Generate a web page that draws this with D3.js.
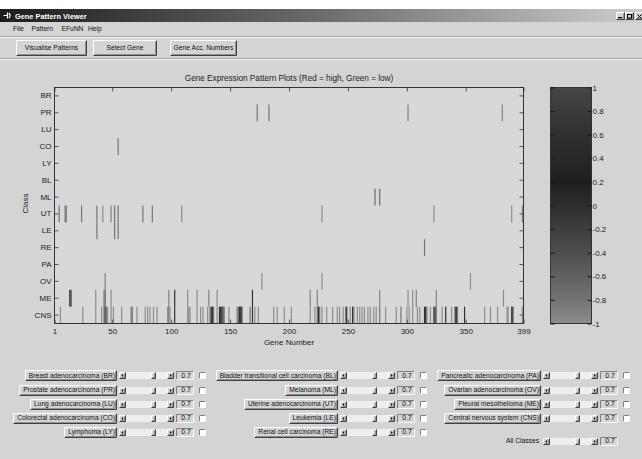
<!DOCTYPE html>
<html><head><meta charset="utf-8">
<script src="https://cdn.jsdelivr.net/npm/d3@7"></script>
<style>
html,body{margin:0;padding:0;background:#fff;}
svg{display:block;font-family:"Liberation Sans",Arial,sans-serif;}
</style></head><body>
<svg id="c" width="642" height="459"></svg>
<script>
// ---------------- data ----------------
const classes = ["BR","PR","LU","CO","LY","BL","ML","UT","LE","RE","PA","OV","ME","CNS"];
const geneTicks = [1,50,100,150,200,250,300,350,399];
const colorTicks = [1,0.8,0.6,0.4,0.2,0,-0.2,-0.4,-0.6,-0.8,-1];
const colorStops = [-1,-0.8,-0.6,-0.4,-0.2,0,0.2,0.4,0.6,0.8,1];
const colorGrays = ["#8c8c8c","#747474","#606060","#4e4e4e","#3e3e3e","#2e2e2e","#1e1e1e","#282828","#303030","#3a3a3a","#464646"];

// [gene, value] per class
const barsBR = [];
const barsPR = [[173,-0.8],[183,-0.8],[301,-0.9],[381,-0.9]];
const barsLU = [];
const barsCO = [[55,-0.8]];
const barsLY = [];
const barsBL = [];
const barsML = [[273,-0.7],[277,-0.7]];
const barsUT = [[5,-0.8],[10,-0.8],[11,-0.8],[24,-0.8],[37,-0.8],[42,-1],[49,-0.9],[52,-0.8],[55,-0.8],[76,-0.8],[84,-0.8],[109,-1],[228,-1],[323,-1],[389,-1],[398,-0.9]];
const barsLE = [[37,-0.8],[52,-0.8],[55,-0.8]];
const barsRE = [[315,-0.8]];
const barsPA = [];
const barsOV = [[44,-0.9],[177,-1],[228,-1],[354,-1]];
const barsME = [[14,0.6],[15,0.6],[36,-1],[43,-0.8],[44,-0.6],[49,-1],[98,-0.9],[103,0.6],[114,-1],[122,-1],[132,-0.9],[139,-1],[169,0.6],[218,-0.9],[224,-0.9],[277,-0.9],[301,-1],[305,-1],[308,-0.9],[325,-0.9],[382,-1]];
const barsCNS = [[6,-1],[25,-1],[36,-1],[41,-1],[43,-0.8],[44,0.6],[45,-0.8],[46,-1],[49,-1],[51,-1],[58,-1],[66,-0.8],[67,-0.8],[71,-1],[78,-1],[80,-1],[82,-1],[85,-1],[88,-1],[97,-1],[98,-0.8],[99,-1],[103,0.6],[114,-1],[115,-1],[116,-1],[122,-1],[125,-1],[127,-1],[131,-1],[133,-0.8],[134,0.6],[135,0.6],[136,-0.8],[139,-1],[141,0.6],[142,0.6],[143,0.6],[144,0.6],[145,-0.8],[149,-1],[156,-0.8],[157,-0.8],[158,0.6],[159,0.6],[160,0.6],[167,-0.8],[169,0.6],[171,-1],[174,-1],[187,-1],[190,-1],[196,-1],[202,-1],[218,-1],[222,-1],[224,-0.8],[225,0.6],[226,-0.8],[228,-1],[232,-1],[237,-1],[241,-1],[243,-1],[246,-1],[248,-0.8],[249,0.6],[252,-1],[254,0.6],[255,-0.8],[258,-1],[260,-1],[262,-1],[264,-1],[267,-1],[269,-1],[272,-1],[274,-1],[277,-0.8],[282,-1],[291,-1],[295,-0.8],[300,-1],[302,-1],[305,-1],[309,-1],[311,-1],[315,0.6],[316,0.6],[317,-0.8],[320,-1],[323,0.6],[324,0.6],[325,-0.8],[330,-1],[333,0.6],[338,-1],[341,0.6],[342,0.6],[343,-0.8],[349,0.6],[366,-1],[371,-1],[377,-1],[385,-1],[386,-1],[389,0.6],[390,0.6],[398,-1]];
const barSets = [barsBR,barsPR,barsLU,barsCO,barsLY,barsBL,barsML,barsUT,barsLE,barsRE,barsPA,barsOV,barsME,barsCNS];

const menuItems = ["File","Pattern","EFuNN","Help"];
const toolButtons = ["Visualise Patterns","Select Gene","Gene Acc. Numbers"];
const col1Labels = ["Breast adenocarcinoma (BR)","Prostate adenocarcinoma (PR)","Lung adenocarcinoma (LU)","Colorectal adenocarcinoma (CO)","Lymphoma (LY)"];
const col2Labels = ["Bladder transitional cell carcinoma (BL)","Melanoma (ML)","Uterine adenocarcinoma (UT)","Leukemia (LE)","Renal cell carcinoma (RE)"];
const col3Labels = ["Pancreatic adenocarcinoma (PA)","Ovarian adenocarcinoma (OV)","Pleural mesothelioma (ME)","Central nervous system (CNS)"];
const col1Thresh = [0.7,0.7,0.7,0.7,0.7];
const col2Thresh = [0.7,0.7,0.7,0.7,0.7];
const col3Thresh = [0.7,0.7,0.7,0.7];
const allClassesThresh = 0.7;

// ---------------- drawing ----------------
const svg = d3.select("#c");
const BG = "#d4d4d4";
const defs = svg.append("defs");

// window chrome
svg.append("rect").attr("x",0).attr("y",0).attr("width",642).attr("height",459).attr("fill","#fff");
svg.append("rect").attr("x",0).attr("y",9).attr("width",642).attr("height",450).attr("fill",BG);
const tg = defs.append("linearGradient").attr("id","tbar").attr("x1",0).attr("x2",1).attr("y1",0).attr("y2",0);
tg.append("stop").attr("offset",0).attr("stop-color","#1c1c1c");
tg.append("stop").attr("offset",0.5).attr("stop-color","#6c6c6c");
tg.append("stop").attr("offset",0.95).attr("stop-color","#c4c4c4");
tg.append("stop").attr("offset",1).attr("stop-color","#cacaca");
svg.append("rect").attr("x",0).attr("y",9).attr("width",642).attr("height",13).attr("fill","url(#tbar)");
svg.append("path").attr("d","M3.5,15.5h3.5M7.5,12.5v6M9,13q2.2,2.5 0,5").attr("stroke","#fff").attr("stroke-width",1.2).attr("fill","none");
svg.append("text").attr("x",15).attr("y",19).attr("fill","#fff").attr("font-weight","bold").attr("font-size",7.4).text("Gene Pattern Viewer");

function raised(g,x,y,w,h){
  g.append("rect").attr("x",x).attr("y",y).attr("width",w).attr("height",h).attr("fill",BG);
  g.append("path").attr("d",`M${x+0.5},${y+h-0.5}V${y+0.5}H${x+w-0.5}`).attr("stroke","#fff").attr("fill","none");
  g.append("path").attr("d",`M${x+1.5},${y+h-1.5}H${x+w-1.5}V${y+1.5}`).attr("stroke","#909090").attr("fill","none");
  g.append("path").attr("d",`M${x+0.5},${y+h-0.5}H${x+w-0.5}V${y+0.5}`).attr("stroke","#404040").attr("fill","none");
}
function sunken(g,x,y,w,h,fill){
  g.append("rect").attr("x",x).attr("y",y).attr("width",w).attr("height",h).attr("fill",fill);
  g.append("path").attr("d",`M${x+0.5},${y+h-0.5}V${y+0.5}H${x+w-0.5}`).attr("stroke","#808080").attr("fill","none");
  g.append("path").attr("d",`M${x+0.5},${y+h-0.5}H${x+w-0.5}V${y+0.5}`).attr("stroke","#fafafa").attr("fill","none");
}

// window buttons
const wb = svg.append("g");
[616,625,635].forEach((bx,i)=>{
  raised(wb,bx,12,9,8);
  if(i===0) wb.append("path").attr("d",`M${bx+2},${17.5}h4`).attr("stroke","#000");
  if(i===1) wb.append("rect").attr("x",bx+2.5).attr("y",14.5).attr("width",4).attr("height",3.5).attr("fill","none").attr("stroke","#000");
  if(i===2) wb.append("path").attr("d",`M${bx+2.5},14.5l4,4M${bx+6.5},14.5l-4,4`).attr("stroke","#000");
});

// menu
const menuX = [13,31.5,61.5,88];
const mg = svg.append("g").attr("font-size",6.7).attr("fill","#111");
menuItems.forEach((m,i)=>mg.append("text").attr("x",menuX[i]).attr("y",30.5).text(m));
svg.append("path").attr("d","M0,36.5H642").attr("stroke","#a0a0a0");
svg.append("path").attr("d","M0,37.5H642").attr("stroke","#f4f4f4");
svg.append("path").attr("d","M0,58.5H642").attr("stroke","#a0a0a0");
svg.append("path").attr("d","M0,59.5H642").attr("stroke","#f4f4f4");

// toolbar buttons
const tbX = [[16,87],[93,157],[170,237]];
const tb = svg.append("g");
toolButtons.forEach((t,i)=>{
  raised(tb,tbX[i][0],40,tbX[i][1]-tbX[i][0],16);
  tb.append("text").attr("x",(tbX[i][0]+tbX[i][1])/2).attr("y",50.3).attr("text-anchor","middle").attr("font-size",6.7).attr("fill","#111").text(t);
});

// ---------------- main axes ----------------
const X0=54.5, X1=523.5, Y0=87.5, Y1=323.5;
const x = d3.scaleLinear().domain([1,399]).range([X0,X1]);
const y = d3.scaleBand().domain(classes).range([Y0,Y1]).padding(0);
const color = d3.scaleLinear().domain(colorStops).range(colorGrays);

svg.append("rect").attr("x",X0).attr("y",Y0).attr("width",X1-X0).attr("height",Y1-Y0).attr("fill","#d8d8d8");

const barData = [];
classes.forEach((c,i)=>barSets[i].forEach(b=>barData.push({cls:c,g:b[0],v:b[1]})));
svg.append("g").selectAll("rect").data(barData).join("rect")
  .attr("x",d=>x(d.g-0.5)).attr("width",d=>x(d.g+0.5)-x(d.g-0.5))
  .attr("y",d=>y(d.cls)).attr("height",y.bandwidth())
  .attr("fill",d=>color(d.v));

function styleAxis(g,col){
  g.select(".domain").remove();
  g.selectAll(".tick line").attr("stroke",col||"#555");
  g.selectAll(".tick text").attr("fill","#222").attr("font-size",8).attr("font-family","Liberation Sans, Arial, sans-serif");
}
svg.append("g").attr("transform",`translate(0,${Y1})`)
  .call(d3.axisBottom(x).tickValues(geneTicks).tickSizeInner(-4).tickSizeOuter(0).tickPadding(5).tickFormat(d=>String(d)))
  .call(styleAxis);
svg.append("g").attr("transform",`translate(0,${Y0})`)
  .call(d3.axisTop(x).tickValues(geneTicks).tickSizeInner(-4).tickSizeOuter(0).tickFormat(""))
  .call(styleAxis);
svg.append("g").attr("transform",`translate(${X0},0)`)
  .call(d3.axisLeft(y).tickSizeInner(-4).tickSizeOuter(0).tickPadding(3))
  .call(styleAxis);
svg.append("g").attr("transform",`translate(${X1},0)`)
  .call(d3.axisRight(y).tickSizeInner(-4).tickSizeOuter(0).tickFormat(""))
  .call(styleAxis);
svg.append("rect").attr("x",X0).attr("y",Y0).attr("width",X1-X0).attr("height",Y1-Y0).attr("fill","none").attr("stroke","#333");

svg.append("text").attr("x",(X0+X1)/2).attr("y",80.5).attr("text-anchor","middle").attr("font-size",8.2).attr("fill","#222")
  .text("Gene Expression Pattern Plots (Red = high, Green = low)");
svg.append("text").attr("x",(X0+X1)/2).attr("y",344.5).attr("text-anchor","middle").attr("font-size",8).attr("fill","#222").text("Gene Number");
svg.append("text").attr("transform",`translate(28,${(Y0+Y1)/2-2}) rotate(-90)`).attr("text-anchor","middle").attr("font-size",8).attr("fill","#222").text("Class");

// ---------------- colorbar ----------------
const CX0=550.5, CX1=591.5;
const yc = d3.scaleLinear().domain([-1,1]).range([Y1,Y0]);
const cg = defs.append("linearGradient").attr("id","cbar").attr("x1",0).attr("x2",0).attr("y1",0).attr("y2",1);
const stopIdx = d3.range(colorStops.length).reverse();
stopIdx.forEach(i=>cg.append("stop").attr("offset",(1-colorStops[i])/2).attr("stop-color",colorGrays[i]));
svg.append("rect").attr("x",CX0).attr("y",Y0).attr("width",CX1-CX0).attr("height",Y1-Y0).attr("fill","url(#cbar)").attr("stroke","#333");
svg.append("g").attr("transform",`translate(${CX1},0)`)
  .call(d3.axisRight(yc).tickValues(colorTicks).tickSizeInner(-4).tickSizeOuter(0).tickPadding(1).tickFormat(d=>String(d)))
  .call(g=>styleAxis(g,"#151515"));
svg.append("g").attr("transform",`translate(${CX0},0)`)
  .call(d3.axisLeft(yc).tickValues(colorTicks).tickSizeInner(-4).tickSizeOuter(0).tickFormat(""))
  .call(g=>styleAxis(g,"#151515"));

// ---------------- controls ----------------
const rowY = [375.5,390,404,418,432];
const FS = 6.7;
function controlRow(g, right, cy, label, val, withButton, withCheck){
  const t = g.append("text").attr("x",right-2).attr("y",cy+2.4).attr("text-anchor","end").attr("font-size",FS).attr("fill","#111").text(label);
  if(withButton){
    const tw = t.node().getComputedTextLength();
    const bx = Math.round(right - tw - 6), by = Math.round(cy - 5.5);
    raised(g,bx,by,Math.round(right)-bx,11);
    t.raise();
  }
  // slider
  const sx = Math.round(right+2), sy = Math.round(cy-3.5), sw = 55, sh = 7, aw = 7;
  g.append("rect").attr("x",sx).attr("y",sy).attr("width",sw).attr("height",sh).attr("fill","#eeeeee");
  raised(g,sx,sy,aw,sh);
  raised(g,sx+sw-aw,sy,aw,sh);
  g.append("path").attr("d",`M${sx+2.3},${sy+3.5}l1.8,-1.6v3.2z`).attr("fill","#000");
  g.append("path").attr("d",`M${sx+sw-2.3},${sy+3.5}l-1.8,-1.6v3.2z`).attr("fill","#000");
  const th = d3.scaleLinear().domain([0,1]).range([sx+aw, sx+sw-aw-5]);
  raised(g,Math.round(th(val)),sy,5,sh);
  // value box
  const vx = Math.round(right+59), vy = Math.round(cy-4.5);
  sunken(g,vx,vy,18,9,BG);
  g.append("text").attr("x",vx+10).attr("y",cy+2.4).attr("text-anchor","middle").attr("font-size",FS).attr("fill","#111").text(String(val));
  if(withCheck){
    sunken(g,Math.round(right+82),Math.round(cy-3.5),7,7,"#fff");
  }
}
const ctl = svg.append("g");
col1Labels.forEach((l,i)=>controlRow(ctl,117,rowY[i],l,col1Thresh[i],true,true));
col2Labels.forEach((l,i)=>controlRow(ctl,338,rowY[i],l,col2Thresh[i],true,true));
col3Labels.forEach((l,i)=>controlRow(ctl,541,rowY[i],l,col3Thresh[i],true,true));
controlRow(ctl,541,441,"All Classes",allClassesThresh,false,false);
</script>
</body></html>
